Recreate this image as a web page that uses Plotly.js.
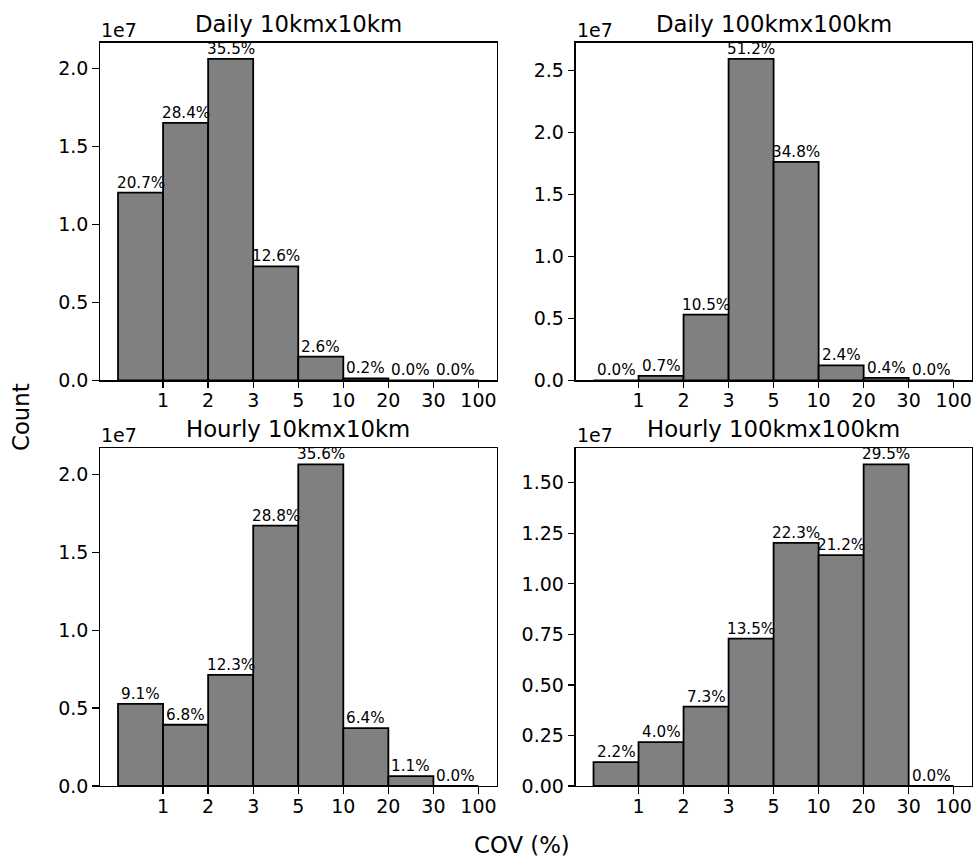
<!DOCTYPE html>
<html><head><meta charset="utf-8">
<script src="https://cdn.plot.ly/plotly-3.0.1.min.js"></script>
<style>html,body{margin:0;padding:0;background:#fff}</style>
</head><body><div id="chart" style="width:973px;height:859px"></div>
<script>
// ---- data ----
const binLabels = ["1", "2", "3", "5", "10", "20", "30", "100"];
const panelTitles = ["Daily 10kmx10km", "Daily 100kmx100km", "Hourly 10kmx10km", "Hourly 100kmx100km"];

const daily10Counts  = [1.203e7, 1.651e7, 2.062e7, 0.731e7, 0.152e7, 0.012e7, 0, 0];
const daily10Pct     = ["20.7%", "28.4%", "35.5%", "12.6%", "2.6%", "0.2%", "0.0%", "0.0%"];
const daily100Counts = [0, 0.035e7, 0.530e7, 2.597e7, 1.764e7, 0.120e7, 0.019e7, 0];
const daily100Pct    = ["0.0%", "0.7%", "10.5%", "51.2%", "34.8%", "2.4%", "0.4%", "0.0%"];
const hourly10Counts = [0.527e7, 0.393e7, 0.713e7, 1.671e7, 2.064e7, 0.371e7, 0.064e7, 0];
const hourly10Pct    = ["9.1%", "6.8%", "12.3%", "28.8%", "35.6%", "6.4%", "1.1%", "0.0%"];
const hourly100Counts= [0.118e7, 0.217e7, 0.393e7, 0.729e7, 1.203e7, 1.142e7, 1.591e7, 0];
const hourly100Pct   = ["2.2%", "4.0%", "7.3%", "13.5%", "22.3%", "21.2%", "29.5%", "0.0%"];

const yTicksA = [0, 0.5e7, 1.0e7, 1.5e7, 2.0e7];
const yTicksB = [0, 0.5e7, 1.0e7, 1.5e7, 2.0e7, 2.5e7];
const yTicksC = [0, 0.25e7, 0.5e7, 0.75e7, 1.0e7, 1.25e7, 1.5e7];

// ---- build ----
const W = 973, H = 859;
const FONT = "DejaVu Sans, sans-serif";
const panels = [
  {counts: daily10Counts, pct: daily10Pct, yt: yTicksA, dec: 1, xd: [100, 496.5], yd: [42.7, 380.3]},
  {counts: daily100Counts, pct: daily100Pct, yt: yTicksB, dec: 1, xd: [575.5, 971.7], yd: [42.7, 380.3]},
  {counts: hourly10Counts, pct: hourly10Pct, yt: yTicksA, dec: 1, xd: [100, 496.5], yd: [448.3, 786]},
  {counts: hourly100Counts, pct: hourly100Pct, yt: yTicksC, dec: 2, xd: [575.5, 971.7], yd: [448.3, 786]},
];
const binEdgesPos = binLabels.map((_, i) => i + 1);
const traces = [], annotations = [];
const layout = {
  width: W, height: H, margin: {l: 0, r: 0, t: 0, b: 0},
  paper_bgcolor: "#fff", plot_bgcolor: "#fff", showlegend: false,
  font: {family: FONT, color: "#000"},
};
panels.forEach((p, k) => {
  const n = k + 1, sx = n === 1 ? "" : String(n);
  const xa = "x" + sx, ya = "y" + sx;
  const centers = p.counts.map((_, i) => i + 0.5);
  traces.push({
    type: "bar", x: centers, y: p.counts, width: 1, xaxis: xa, yaxis: ya,
    marker: {color: "#808080", line: {color: "#000", width: 1.8}},
    hoverinfo: "none",
  });
  const xdom = [p.xd[0] / W, p.xd[1] / W];
  const ydom = [1 - p.yd[1] / H, 1 - p.yd[0] / H];
  const ymax = Math.max(...p.counts) * 1.05;
  layout["xaxis" + sx] = {
    domain: xdom, anchor: ya, range: [-0.4, 8.4],
    tickmode: "array", tickvals: binEdgesPos, ticktext: binLabels,
    ticks: "outside", ticklen: 6.5, tickwidth: 1.3, tickcolor: "#000",
    ticklabelstandoff: -4,
    showline: true, linecolor: "#000", linewidth: 1.3, mirror: true,
    showgrid: false, zeroline: false, fixedrange: true,
    tickfont: {family: FONT, size: 19, color: "#000"},
  };
  layout["yaxis" + sx] = {
    domain: ydom, anchor: xa, range: [0, ymax],
    tickmode: "array", tickvals: p.yt, ticktext: p.yt.map(v => (v / 1e7).toFixed(p.dec)),
    ticks: "outside", ticklen: 6.5, tickwidth: 1.3, tickcolor: "#000",
    showline: true, linecolor: "#000", linewidth: 1.3, mirror: true,
    showgrid: false, zeroline: false, fixedrange: true,
    tickfont: {family: FONT, size: 19, color: "#000"},
  };
  // percentage labels
  p.counts.forEach((c, i) => {
    annotations.push({
      xref: xa, yref: ya, x: centers[i], y: c, text: p.pct[i],
      showarrow: false, xanchor: "center", yanchor: "bottom", borderpad: 0,
      font: {family: FONT, size: 15.2, color: "#000"},
    });
  });
  // subplot title
  annotations.push({
    xref: "paper", yref: "paper", x: (xdom[0] + xdom[1]) / 2, y: ydom[1],
    text: panelTitles[k], showarrow: false, xanchor: "center", yanchor: "bottom",
    yshift: 4, font: {family: FONT, size: 22.8, color: "#000"},
  });
  // offset text
  annotations.push({
    xref: "paper", yref: "paper", x: xdom[0], y: ydom[1], text: "1e7",
    showarrow: false, xanchor: "left", yanchor: "bottom", yshift: 1, borderpad: 0,
    font: {family: FONT, size: 19, color: "#000"},
  });
});
annotations.push({
  xref: "paper", yref: "paper", x: 21 / W, y: 1 - 417 / H, text: "Count", textangle: -90,
  showarrow: false, xanchor: "center", yanchor: "middle",
  font: {family: FONT, size: 22.8, color: "#000"},
});
annotations.push({
  xref: "paper", yref: "paper", x: 521.5 / W, y: 1 - 845 / H, text: "COV (%)",
  showarrow: false, xanchor: "center", yanchor: "middle",
  font: {family: FONT, size: 22.8, color: "#000"},
});
layout.annotations = annotations;
Plotly.newPlot("chart", traces, layout, {displayModeBar: false, staticPlot: true});
</script>
</body></html>
